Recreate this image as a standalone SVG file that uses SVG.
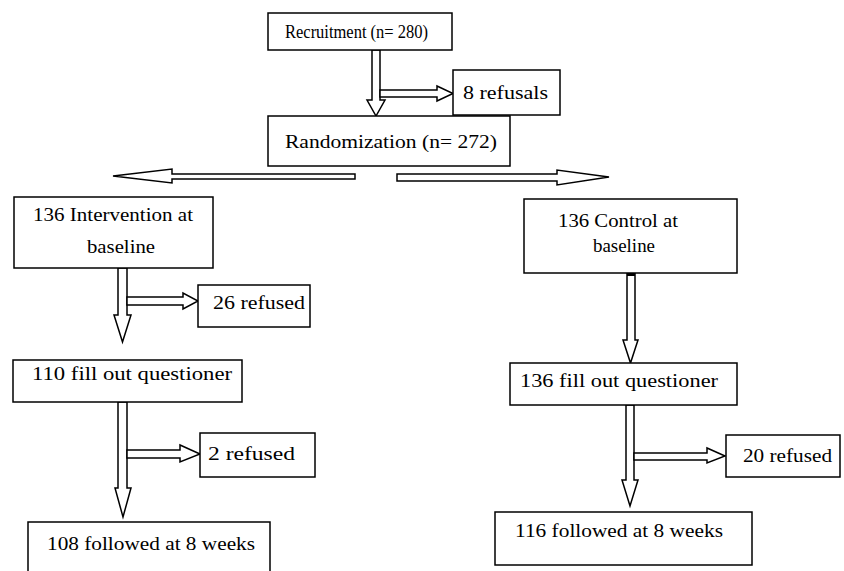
<svg xmlns="http://www.w3.org/2000/svg" width="844" height="571" viewBox="0 0 844 571">
<style>
.box{fill:#fff;stroke:#000;stroke-width:1.5}
.arr{fill:#fff;stroke:#000;stroke-width:1.5;stroke-linejoin:miter}
text{font-family:"Liberation Serif","Times New Roman",serif;font-size:19px;fill:#000}
</style>
<rect width="844" height="571" fill="#fff"/>
<g id="connectors">
<polygon class="arr" points="372,50 380,50 380,100 385,100 376,116 367,100 372,100"/>
<polygon class="arr" points="380,90 437,90 437,86 453,93.5 437,101 437,97 380,97"/>
<polygon class="arr" points="355,174 172,174 172,169 113,176 172,183 172,179 355,179"/>
<polygon class="arr" points="397,174 557,174 557,170 609,177 557,185 557,181 397,181"/>
<polygon class="arr" points="118,268 127,268 127,315 131,315 122.5,342 114,315 118,315"/>
<polygon class="arr" points="127,297 183,297 183,293 198,301 183,309 183,305 127,305"/>
<polygon class="arr" points="118,402 127,402 127,488 131,488 123,517 115,488 118,488"/>
<polygon class="arr" points="127,450 180,450 180,445 200,454 180,462 180,458 127,458"/>
<polygon class="arr" points="627,273 635,273 635,340 638,340 630.5,363 623,340 627,340"/>
<rect x="627" y="271" width="8" height="5" fill="#000"/>
<polygon class="arr" points="626,405 634,405 634,480 638,480 630,506 622,480 626,480"/>
<polygon class="arr" points="634,453 707,453 707,448 725,456 707,463 707,460 634,460"/>
</g>
<g id="recruitment">
<rect class="box" x="268" y="13" width="184" height="37"/>
<text x="285" y="38" textLength="143" lengthAdjust="spacingAndGlyphs">Recruitment (n= 280)</text>
</g>
<g id="refusals8">
<rect class="box" x="453" y="70" width="107" height="45"/>
<text x="463" y="99" textLength="85" lengthAdjust="spacingAndGlyphs">8 refusals</text>
</g>
<g id="randomization">
<rect class="box" x="268" y="116" width="242" height="50"/>
<text x="285" y="148" textLength="212" lengthAdjust="spacingAndGlyphs">Randomization (n= 272)</text>
</g>
<g id="intervention">
<rect class="box" x="14" y="197" width="199" height="71"/>
<text x="33" y="221" textLength="160" lengthAdjust="spacingAndGlyphs">136 Intervention at</text>
<text x="87" y="253" textLength="68" lengthAdjust="spacingAndGlyphs">baseline</text>
</g>
<g id="refused26">
<rect class="box" x="198" y="285" width="112" height="42"/>
<text x="213" y="309" textLength="92" lengthAdjust="spacingAndGlyphs">26 refused</text>
</g>
<g id="fill110">
<rect class="box" x="13" y="360" width="229" height="42"/>
<text x="32" y="380" textLength="200" lengthAdjust="spacingAndGlyphs">110 fill out questioner</text>
</g>
<g id="refused2">
<rect class="box" x="200" y="433" width="115" height="44"/>
<text x="208" y="460" textLength="87" lengthAdjust="spacingAndGlyphs">2 refused</text>
</g>
<g id="follow108">
<rect class="box" x="28" y="522" width="242" height="60"/>
<text x="47" y="550" textLength="208" lengthAdjust="spacingAndGlyphs">108 followed at 8 weeks</text>
</g>
<g id="control">
<rect class="box" x="524" y="199" width="213" height="74"/>
<text x="558" y="227" textLength="120" lengthAdjust="spacingAndGlyphs">136 Control at</text>
<text x="593" y="252" textLength="62" lengthAdjust="spacingAndGlyphs">baseline</text>
</g>
<g id="fill136">
<rect class="box" x="510" y="363" width="227" height="42"/>
<text x="520" y="387" textLength="198" lengthAdjust="spacingAndGlyphs">136 fill out questioner</text>
</g>
<g id="refused20">
<rect class="box" x="726" y="435" width="114" height="42"/>
<text x="743" y="462" textLength="89" lengthAdjust="spacingAndGlyphs">20 refused</text>
</g>
<g id="follow116">
<rect class="box" x="495" y="512" width="257" height="53"/>
<text x="515" y="537" textLength="208" lengthAdjust="spacingAndGlyphs">116 followed at 8 weeks</text>
</g>
</svg>
